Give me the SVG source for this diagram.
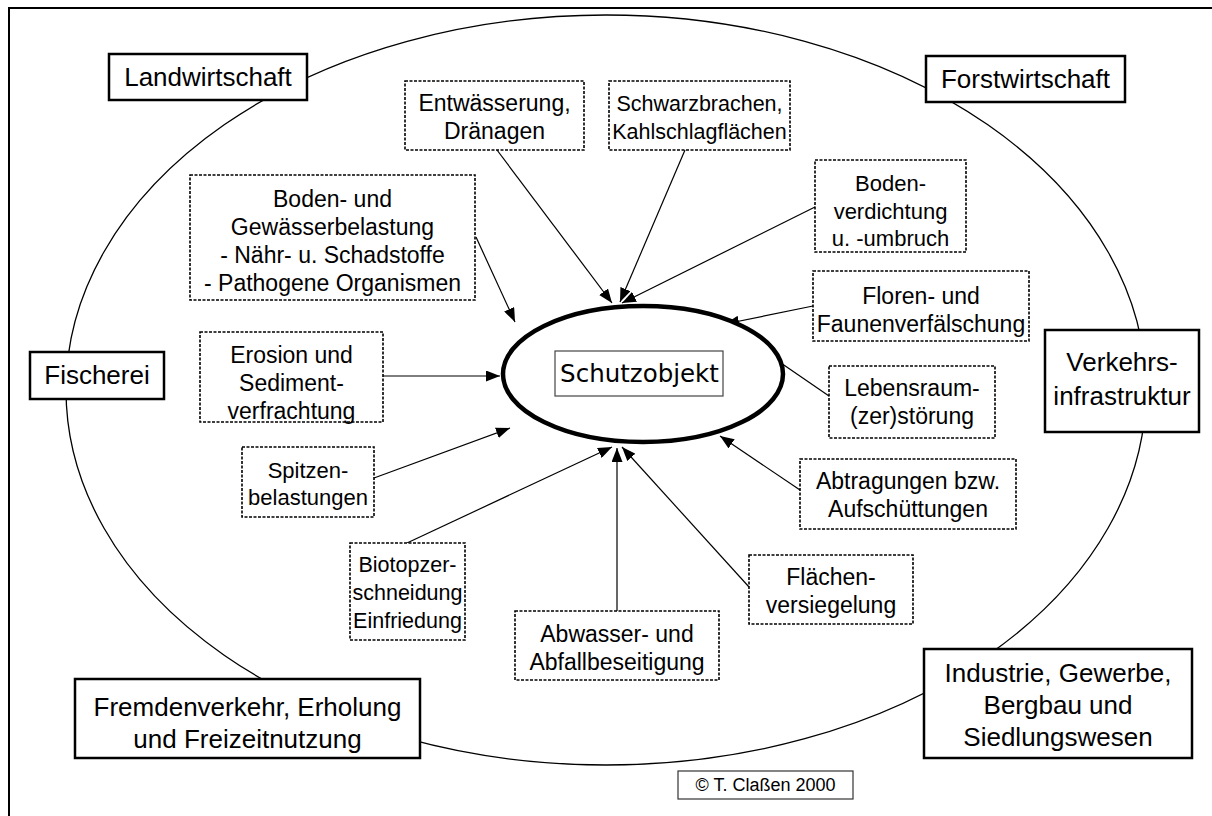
<svg xmlns="http://www.w3.org/2000/svg" width="1212" height="816" viewBox="0 0 1212 816">
  <defs>
    <style>
      .frame { fill: none; stroke: #000; stroke-width: 2; }
      .ring { fill: none; stroke: #000; stroke-width: 1.3; }
      .sector { fill: #fff; stroke: #000; stroke-width: 2.5; }
      .impact { fill: #fff; stroke: #000; stroke-width: 1.6; stroke-dasharray: 3 1.5; }
      .lbl { font-family: "Liberation Sans", Arial, sans-serif; font-size: 26px; fill: #000; text-anchor: middle; }
      .sm { font-family: "Liberation Sans", Arial, sans-serif; font-size: 23px; fill: #000; text-anchor: middle; }
      .sm21 { font-size: 21.5px; }
      .sm22 { font-size: 22px; }
      .arrow { stroke: #000; stroke-width: 1.2; fill: none; marker-end: url(#head); }
    </style>
    <marker id="head" markerUnits="userSpaceOnUse" markerWidth="15" markerHeight="11" refX="14" refY="5.5" orient="auto">
      <path d="M0,0 L14,5.5 L0,11 z" fill="#000"/>
    </marker>
  </defs>

  <rect width="1212" height="816" fill="#fff"/>
  <!-- page frame (top and left edges) -->
  <path class="frame" d="M9,816 L9,8 L1212,8"/>

  <!-- large ellipse around everything -->
  <ellipse class="ring" cx="606" cy="390" rx="540" ry="375"/>

  <!-- arrows pointing at the protected object -->
  <g id="connectors">
    <line class="arrow" x1="497" y1="150" x2="612" y2="303"/>
    <line class="arrow" x1="685" y1="150" x2="620" y2="302"/>
    <line class="arrow" x1="815" y1="207" x2="622" y2="303"/>
    <line class="arrow" x1="476" y1="237" x2="515" y2="322"/>
    <line class="arrow" x1="813" y1="306" x2="725" y2="324"/>
    <line class="arrow" x1="383" y1="376" x2="500" y2="376"/>
    <line class="arrow" x1="829" y1="396" x2="762" y2="350"/>
    <line class="arrow" x1="374" y1="478" x2="510" y2="428"/>
    <line class="arrow" x1="800" y1="490" x2="720" y2="436"/>
    <line class="arrow" x1="407" y1="543" x2="612" y2="447"/>
    <line class="arrow" x1="617" y1="611" x2="617" y2="448"/>
    <line class="arrow" x1="749" y1="587" x2="622" y2="447"/>
  </g>

  <!-- central protected object -->
  <g id="schutzobjekt">
    <ellipse cx="643" cy="374" rx="140" ry="68" fill="#fff" stroke="#000" stroke-width="4.5"/>
    <rect x="555" y="351" width="168" height="45" fill="#fff" stroke="#444" stroke-width="1.2"/>
    <text x="639.5" y="382" font-family="DejaVu Sans, Verdana, sans-serif" font-size="24.5" text-anchor="middle">Schutzobjekt</text>
  </g>

  <!-- land-use sectors -->
  <g id="landwirtschaft">
    <rect class="sector" x="109" y="54" width="198" height="46"/>
    <text class="lbl" x="208" y="86">Landwirtschaft</text>
  </g>
  <g id="forstwirtschaft">
    <rect class="sector" x="926" y="56" width="199" height="46"/>
    <text class="lbl" x="1025.5" y="88">Forstwirtschaft</text>
  </g>
  <g id="fischerei">
    <rect class="sector" x="30" y="352" width="134" height="47"/>
    <text class="lbl" x="97" y="384">Fischerei</text>
  </g>
  <g id="verkehr">
    <rect class="sector" x="1045" y="330" width="154" height="102"/>
    <text class="lbl" x="1122" y="371">Verkehrs-</text>
    <text class="lbl" x="1122" y="405">infrastruktur</text>
  </g>
  <g id="fremdenverkehr">
    <rect class="sector" x="75" y="679" width="345" height="79"/>
    <text class="lbl" x="247.5" y="716">Fremdenverkehr, Erholung</text>
    <text class="lbl" x="247.5" y="748">und Freizeitnutzung</text>
  </g>
  <g id="industrie">
    <rect class="sector" x="924" y="649" width="268" height="109"/>
    <text class="lbl" x="1058" y="682">Industrie, Gewerbe,</text>
    <text class="lbl" x="1058" y="714">Bergbau und</text>
    <text class="lbl" x="1058" y="746">Siedlungswesen</text>
  </g>

  <!-- impacts -->
  <g id="entwaesserung">
    <rect class="impact" x="405" y="81" width="179" height="69"/>
    <text class="sm" x="494.5" y="111">Entwässerung,</text>
    <text class="sm" x="494.5" y="139">Dränagen</text>
  </g>
  <g id="schwarzbrachen">
    <rect class="impact" x="609" y="81" width="181" height="69"/>
    <text class="sm sm21" x="699.5" y="111">Schwarzbrachen,</text>
    <text class="sm sm21" x="699.5" y="139">Kahlschlagflächen</text>
  </g>
  <g id="bodenverdichtung">
    <rect class="impact" x="815" y="160" width="151" height="92"/>
    <text class="sm sm22" x="890.5" y="191">Boden-</text>
    <text class="sm sm22" x="890.5" y="219">verdichtung</text>
    <text class="sm sm22" x="890.5" y="246">u. -umbruch</text>
  </g>
  <g id="belastung">
    <rect class="impact" x="190" y="175" width="285" height="125"/>
    <text class="sm" x="332.5" y="207">Boden- und</text>
    <text class="sm" x="332.5" y="235">Gewässerbelastung</text>
    <text class="sm" x="332.5" y="263">- Nähr- u. Schadstoffe</text>
    <text class="sm" x="332.5" y="291">- Pathogene Organismen</text>
  </g>
  <g id="floren">
    <rect class="impact" x="813" y="271" width="216" height="70"/>
    <text class="sm" x="921" y="304">Floren- und</text>
    <text class="sm" x="921" y="332">Faunenverfälschung</text>
  </g>
  <g id="erosion">
    <rect class="impact" x="200" y="332" width="183" height="90"/>
    <text class="sm" x="291.5" y="363">Erosion und</text>
    <text class="sm" x="291.5" y="391">Sediment-</text>
    <text class="sm" x="291.5" y="419">verfrachtung</text>
  </g>
  <g id="lebensraum">
    <rect class="impact" x="829" y="366" width="166" height="72"/>
    <text class="sm" x="912" y="396">Lebensraum-</text>
    <text class="sm" x="912" y="424">(zer)störung</text>
  </g>
  <g id="spitzen">
    <rect class="impact" x="242" y="447" width="132" height="70"/>
    <text class="sm sm22" x="308" y="478">Spitzen-</text>
    <text class="sm sm22" x="308" y="505">belastungen</text>
  </g>
  <g id="abtragungen">
    <rect class="impact" x="800" y="459" width="216" height="70"/>
    <text class="sm" x="908" y="489">Abtragungen bzw.</text>
    <text class="sm" x="908" y="517">Aufschüttungen</text>
  </g>
  <g id="biotop">
    <rect class="impact" x="350" y="543" width="115" height="97"/>
    <text class="sm sm21" x="407.5" y="572">Biotopzer-</text>
    <text class="sm sm21" x="407.5" y="600">schneidung</text>
    <text class="sm sm21" x="407.5" y="628">Einfriedung</text>
  </g>
  <g id="flaechen">
    <rect class="impact" x="749" y="555" width="164" height="69"/>
    <text class="sm" x="831" y="585">Flächen-</text>
    <text class="sm" x="831" y="613">versiegelung</text>
  </g>
  <g id="abwasser">
    <rect class="impact" x="515" y="611" width="204" height="69"/>
    <text class="sm" x="617" y="642">Abwasser- und</text>
    <text class="sm" x="617" y="670">Abfallbeseitigung</text>
  </g>

  <g id="copyright">
    <rect x="678" y="771" width="175" height="28" fill="#fff" stroke="#333" stroke-width="1.2"/>
    <text x="765.5" y="791" font-family="Liberation Sans, Arial, sans-serif" font-size="18" text-anchor="middle">© T. Claßen 2000</text>
  </g>
</svg>
